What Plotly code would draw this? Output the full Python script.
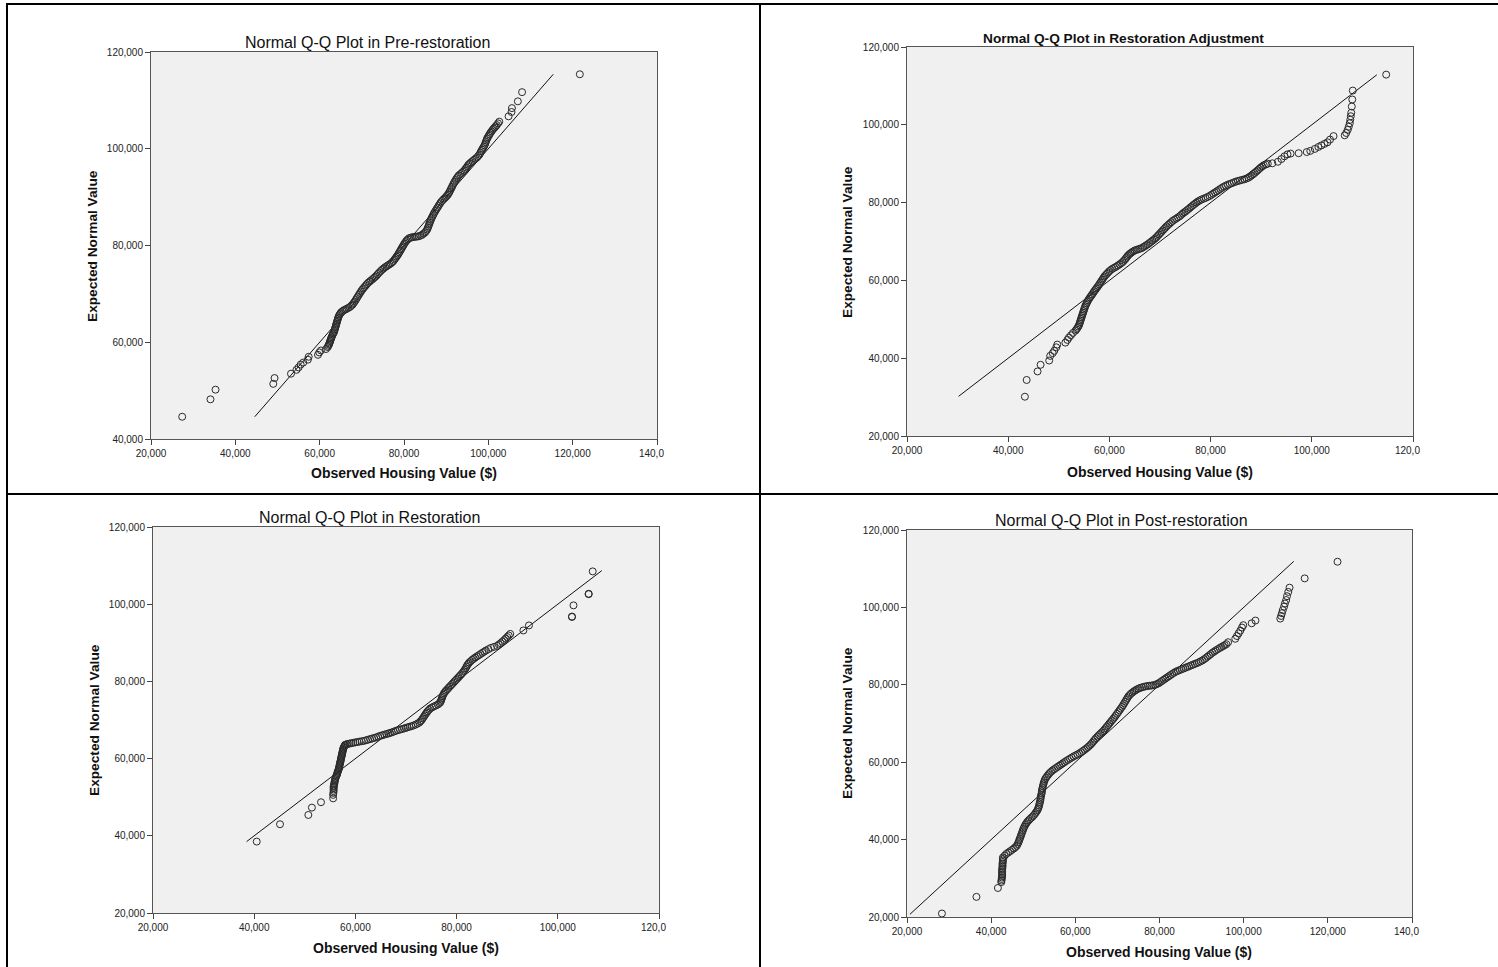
import plotly.graph_objects as go

W, H = 1498, 967

# ---------------- data (observed housing value, expected normal value) ----------------
pre_points = [
    (27400, 44600), (34100, 48200), (35300, 50200), (49000, 51400), (49300, 52600),
    (53200, 53500), (54500, 54300), (55000, 54800), (55500, 55400), (56100, 55800),
    (57200, 56400), (57400, 57000), (59600, 57400), (59900, 57900), (60300, 58300),
    (61500, 58600), (61900, 59000), (62200, 59500), (62400, 60000), (62600, 60500),
    (62800, 61000), (63100, 61600), (63400, 62100), (63600, 62700), (63800, 63300),
    (64000, 63900), (64200, 64500), (64400, 65100), (64700, 65700), (65100, 66200),
    (65700, 66600), (66400, 66900), (67200, 67300), (67800, 67800), (68300, 68400),
    (68800, 69100), (69300, 69800), (69800, 70500), (70300, 71100), (70900, 71700),
    (71500, 72300), (72200, 72800), (72900, 73300), (73500, 73800), (74100, 74400),
    (74800, 75000), (75500, 75500), (76200, 75900), (76900, 76300), (77500, 76800),
    (78000, 77400), (78500, 78000), (78900, 78600), (79300, 79200), (79700, 79800),
    (80100, 80400), (80600, 81000), (81200, 81500), (81900, 81700), (82700, 81800),
    (83500, 81900), (84300, 82200), (85000, 82700), (85500, 83300), (85800, 84000),
    (86100, 84700), (86400, 85400), (86800, 86100), (87200, 86800), (87700, 87500),
    (88200, 88200), (88700, 88900), (89300, 89500), (89900, 90000), (90400, 90500),
    (90800, 91100), (91200, 91800), (91600, 92500), (92000, 93200), (92500, 93900),
    (93000, 94500), (93700, 95000), (94300, 95500), (94800, 96100), (95300, 96700),
    (95900, 97200), (96600, 97700), (97300, 98200), (97900, 98800), (98300, 99500),
    (98700, 100100), (99100, 100700), (99400, 101400), (99700, 102100), (100100, 102700),
    (100500, 103300), (101000, 103900), (101500, 104400), (102000, 104900), (102600, 105600),
    (104800, 106700), (105500, 107600), (105600, 108400), (107000, 109800), (108000, 111700),
    (121700, 115400),
]
pre_points_dense = [
    (62050, 59250), (62300, 59750), (62500, 60250), (62700, 60750), (62950, 61300),
    (63250, 61850), (63500, 62400), (63700, 63000), (63900, 63600), (64100, 64200),
    (64300, 64800), (64550, 65400), (64900, 65950), (65400, 66400), (66050, 66750),
    (66800, 67100), (67500, 67550), (68050, 68100), (68550, 68750), (69050, 69450),
    (69550, 70150), (70050, 70800), (70600, 71400), (71200, 72000), (71850, 72550),
    (72550, 73050), (73200, 73550), (73800, 74100), (74450, 74700), (75150, 75250),
    (75850, 75700), (76550, 76100), (77200, 76550), (77750, 77100), (78250, 77700),
    (78700, 78300), (79100, 78900), (79500, 79500), (79900, 80100), (80350, 80700),
    (80900, 81250), (81550, 81600), (82300, 81750), (83100, 81850), (83900, 82050),
    (84650, 82450), (85250, 83000), (85650, 83650), (85950, 84350), (86250, 85050),
    (86600, 85750), (87000, 86450), (87450, 87150), (87950, 87850), (88450, 88550),
    (89000, 89200), (89600, 89750), (90150, 90250), (90600, 90800), (91000, 91450),
    (91400, 92150), (91800, 92850), (92250, 93550), (92750, 94200), (93350, 94750),
    (94000, 95250), (94550, 95800), (95050, 96400), (95600, 96950), (96250, 97450),
    (96950, 97950), (97600, 98500), (98100, 99150), (98500, 99800), (98900, 100400),
    (99250, 101050), (99550, 101750), (99900, 102400), (100300, 103000), (100750, 103600),
    (101250, 104150), (101750, 104650), (102300, 105250),
]

adj_points = [
    (43300, 30100), (43650, 34400), (45800, 36600), (46400, 38300), (48100, 39400),
    (48300, 40600), (48800, 41300), (49100, 41900), (49500, 42800), (49700, 43500),
    (51300, 44000), (51700, 44700), (52000, 45300), (52400, 45900), (52800, 46500),
    (53300, 47100), (53700, 47800), (54000, 48500), (54200, 49300), (54400, 50100),
    (54600, 50900), (54800, 51700), (55000, 52500), (55200, 53300), (55500, 54100),
    (55800, 54900), (56200, 55700), (56600, 56400), (57000, 57200), (57400, 57900),
    (57800, 58600), (58200, 59400), (58600, 60200), (59000, 61000), (59500, 61700),
    (60000, 62400), (60600, 63000), (61300, 63500), (62000, 64100), (62600, 64700),
    (63100, 65400), (63500, 66100), (63900, 66700), (64400, 67200), (65000, 67700),
    (65700, 68000), (66400, 68300), (67000, 68800), (67600, 69300), (68200, 69900),
    (68800, 70500), (69300, 71100), (69800, 71800), (70300, 72500), (70800, 73200),
    (71300, 73900), (71900, 74600), (72500, 75300), (73200, 75900), (73900, 76500),
    (74500, 77200), (75100, 77800), (75700, 78400), (76300, 79100), (76900, 79700),
    (77500, 80300), (78200, 80800), (79000, 81200), (79800, 81700), (80500, 82300),
    (81200, 82900), (81900, 83500), (82600, 84100), (83400, 84600), (84200, 85000),
    (85000, 85400), (85800, 85700), (86700, 86000), (87500, 86400), (88100, 87000),
    (88700, 87600), (89300, 88300), (89900, 89000), (90500, 89600), (91300, 90000),
    (92200, 90100), (93300, 90500), (94000, 91200), (94600, 91900), (95200, 92400),
    (95800, 92600), (97400, 92700), (99000, 93000), (99700, 93300), (100600, 93800),
    (101300, 94300), (101900, 94700), (102500, 95100), (103100, 95500), (103600, 96200),
    (104300, 97100), (106500, 97300), (106800, 97900), (107100, 98700), (107300, 99500),
    (107500, 100400), (107600, 101300), (107700, 102200), (107800, 103100), (107900, 104700),
    (108000, 106500), (108100, 108800), (114700, 112900),
]
adj_points_dense = [
    (53500, 47450), (53850, 48150), (54100, 48900), (54300, 49700), (54500, 50500),
    (54700, 51300), (54900, 52100), (55100, 52900), (55350, 53700), (55650, 54500),
    (56000, 55300), (56400, 56050), (56800, 56800), (57200, 57550), (57600, 58250),
    (58000, 59000), (58400, 59800), (58800, 60600), (59250, 61350), (59750, 62050),
    (60300, 62700), (60950, 63250), (61650, 63800), (62300, 64400), (62850, 65050),
    (63300, 65750), (63700, 66400), (64150, 66950), (64700, 67450), (65350, 67850),
    (66050, 68150), (66700, 68550), (67300, 69050), (67900, 69600), (68500, 70200),
    (69050, 70800), (69550, 71450), (70050, 72150), (70550, 72850), (71050, 73550),
    (71600, 74250), (72200, 74950), (72850, 75600), (73550, 76200), (74200, 76850),
    (74800, 77500), (75400, 78100), (76000, 78750), (76600, 79400), (77200, 80000),
    (77850, 80550), (78600, 81000), (79400, 81450), (80150, 82000), (80850, 82600),
    (81550, 83200), (82250, 83800), (83000, 84350), (83800, 84800), (84600, 85200),
    (85400, 85550), (86250, 85850), (87100, 86200), (87800, 86700), (88400, 87300),
    (89000, 87950), (89600, 88650), (90200, 89300), (90900, 89800),
]

res_points = [
    (40500, 38500), (45100, 43000), (50700, 45400), (51400, 47300), (53200, 48700),
    (55600, 49700), (55600, 50600), (55700, 51600), (55700, 52400), (55700, 52700),
    (55800, 53300), (55900, 54000), (56000, 54700), (56200, 55400), (56400, 56000),
    (56500, 56600), (56700, 57200), (56800, 57800), (56900, 58400), (57000, 59000),
    (57100, 59600), (57200, 60200), (57300, 60800), (57400, 61400), (57500, 62000),
    (57600, 62600), (57800, 63200), (58000, 63600), (58500, 63800), (59200, 64000),
    (60000, 64200), (60800, 64400), (61700, 64600), (62500, 64900), (63300, 65200),
    (64100, 65500), (64900, 65900), (65700, 66200), (66500, 66500), (67200, 66800),
    (68000, 67200), (68800, 67500), (69600, 67800), (70300, 68100), (71100, 68400),
    (71900, 68800), (72600, 69300), (73100, 70000), (73500, 70800), (73900, 71600),
    (74300, 72300), (74800, 73000), (75500, 73500), (76300, 74000), (76800, 74600),
    (77000, 75300), (77200, 76100), (77500, 76900), (77900, 77600), (78400, 78300),
    (78900, 79000), (79400, 79700), (79900, 80400), (80400, 81100), (80900, 81800),
    (81400, 82600), (81800, 83400), (82100, 84200), (82500, 84900), (83100, 85600),
    (83700, 86200), (84400, 86800), (85100, 87400), (85800, 88000), (86800, 88700),
    (88000, 89200), (88700, 89900), (89400, 90700), (90000, 91500), (90600, 92300),
    (93200, 93200), (94300, 94500), (102800, 96700), (102800, 96800), (103100, 99700),
    (106100, 102600), (106100, 102700), (106900, 108500),
]
res_points_dense = [
    (55650, 51100), (55700, 52000), (55750, 53000), (55850, 53650), (55950, 54350),
    (56100, 55050), (56300, 55700), (56450, 56300), (56600, 56900), (56750, 57500),
    (56850, 58100), (56950, 58700), (57050, 59300), (57150, 59900), (57250, 60500),
    (57350, 61100), (57450, 61700), (57550, 62300), (57700, 62900), (57900, 63400),
    (58250, 63700), (58850, 63900), (59600, 64100), (60400, 64300), (61250, 64500),
    (62100, 64750), (62900, 65050), (63700, 65350), (64500, 65700), (65300, 66050),
    (66100, 66350), (66850, 66650), (67600, 67000), (68400, 67350), (69200, 67650),
    (69950, 67950), (70700, 68250), (71500, 68600), (72250, 69050), (72850, 69650),
    (73300, 70400), (73700, 71200), (74100, 71950), (74550, 72650), (75150, 73250),
    (75900, 73750), (76550, 74300), (76900, 74950), (77100, 75700), (77350, 76500),
    (77700, 77250), (78150, 77950), (78650, 78650), (79150, 79350), (79650, 80050),
    (80150, 80750), (80650, 81450), (81150, 82200), (81600, 83000), (81950, 83800),
    (82300, 84550), (82800, 85250), (83400, 85900), (84050, 86500), (84750, 87100),
    (85450, 87700), (86300, 88350), (87400, 88950), (88350, 89550), (89050, 90300),
    (89700, 91100), (90300, 91900),
]

post_points = [
    (28300, 20900), (36500, 25200), (41600, 27500), (42400, 29000), (42500, 29800),
    (42600, 30600), (42600, 31400), (42600, 32200), (42700, 33000), (42700, 33800),
    (42800, 34600), (42800, 35400), (43600, 36300), (44500, 37000), (45400, 37700),
    (46100, 38400), (46500, 39300), (46800, 40200), (47100, 41100), (47400, 42000),
    (47700, 42900), (48100, 43800), (48600, 44600), (49200, 45300), (49900, 46000),
    (50500, 46800), (51000, 47600), (51300, 48400), (51500, 49300), (51700, 50200),
    (51800, 51100), (52000, 52000), (52100, 52900), (52300, 53800), (52500, 54700),
    (52800, 55600), (53300, 56400), (53900, 57200), (54600, 57900), (55400, 58500),
    (56200, 59100), (57000, 59700), (57800, 60300), (58700, 60900), (59600, 61500),
    (60500, 62000), (61400, 62600), (62200, 63200), (63000, 63900), (63700, 64600),
    (64300, 65400), (64900, 66200), (65600, 67000), (66300, 67700), (66900, 68400),
    (67500, 69200), (68100, 70000), (68700, 70800), (69300, 71600), (69900, 72500),
    (70500, 73400), (71100, 74300), (71600, 75200), (72100, 76100), (72600, 77000),
    (73200, 77700), (73900, 78300), (74600, 78800), (75400, 79200), (76300, 79500),
    (77200, 79700), (78100, 79800), (79000, 80000), (79800, 80400), (80600, 81000),
    (81400, 81600), (82200, 82200), (83000, 82800), (83900, 83400), (84800, 83800),
    (85700, 84200), (86600, 84600), (87500, 85000), (88400, 85400), (89300, 85800),
    (90200, 86300), (91000, 86900), (91800, 87600), (92600, 88300), (93400, 88900),
    (94300, 89500), (95100, 90000), (95900, 90500), (96300, 91000), (98000, 91900),
    (98400, 92600), (98800, 93300), (99200, 94000), (99600, 94800), (99900, 95400),
    (101900, 95900), (102800, 96600), (108700, 97100), (108900, 97800), (109100, 98500),
    (109300, 99300), (109600, 100200), (109800, 101000), (110100, 101900), (110300, 102900),
    (110600, 104000), (110900, 105100), (114500, 107500), (122300, 111800),
]
post_points_dense = [
    (42450, 29400), (42550, 30200), (42600, 31000), (42600, 31800), (42650, 32600),
    (42700, 33400), (42750, 34200), (42800, 35000), (43200, 35850), (44050, 36650),
    (44950, 37350), (45750, 38050), (46300, 38850), (46650, 39750), (46950, 40650),
    (47250, 41550), (47550, 42450), (47900, 43350), (48350, 44200), (48900, 44950),
    (49550, 45650), (50200, 46400), (50750, 47200), (51150, 48000), (51400, 48850),
    (51600, 49750), (51750, 50650), (51900, 51550), (52050, 52450), (52200, 53350),
    (52400, 54250), (52650, 55150), (53050, 56000), (53600, 56800), (54250, 57550),
    (55000, 58200), (55800, 58800), (56600, 59400), (57400, 60000), (58250, 60600),
    (59150, 61200), (60050, 61750), (60950, 62300), (61800, 62900), (62600, 63550),
    (63350, 64250), (64000, 65000), (64600, 65800), (65250, 66600), (65950, 67350),
    (66600, 68050), (67200, 68800), (67800, 69600), (68400, 70400), (69000, 71200),
    (69600, 72050), (70200, 72950), (70800, 73850), (71350, 74750), (71850, 75650),
    (72350, 76550), (72900, 77350), (73550, 78000), (74250, 78550), (75000, 79000),
    (75850, 79350), (76750, 79600), (77650, 79750), (78550, 79900), (79400, 80200),
    (80200, 80700), (81000, 81300), (81800, 81900), (82600, 82500), (83450, 83100),
    (84350, 83600), (85250, 84000), (86150, 84400), (87050, 84800), (87950, 85200),
    (88850, 85600), (89750, 86050), (90600, 86600), (91400, 87250), (92200, 87950),
    (93000, 88600), (93850, 89200), (94700, 89750), (95500, 90250),
]

# reference (expected = observed) line extents
pre_line = [44600, 115400]
adj_line = [30200, 112850]
res_line = [38500, 108700]
post_line = [20700, 111900]

titles = [
    "Normal Q-Q Plot in Pre-restoration",
    "Normal Q-Q Plot in Restoration Adjustment",
    "Normal Q-Q Plot in Restoration",
    "Normal Q-Q Plot in Post-restoration",
]
x_title = "Observed Housing Value ($)"
y_title = "Expected Normal Value"

x_ticks_140 = [20000, 40000, 60000, 80000, 100000, 120000, 140000]
x_text_140 = ["20,000", "40,000", "60,000", "80,000", "100,000", "120,000", "140,0"]
x_ticks_120 = [20000, 40000, 60000, 80000, 100000, 120000]
x_text_120 = ["20,000", "40,000", "60,000", "80,000", "100,000", "120,0"]
y_ticks_40 = [40000, 60000, 80000, 100000, 120000]
y_text_40 = ["40,000", "60,000", "80,000", "100,000", "120,000"]
y_ticks_20 = [20000, 40000, 60000, 80000, 100000, 120000]
y_text_20 = ["20,000", "40,000", "60,000", "80,000", "100,000", "120,000"]

# ---------------- layout geometry (pixels) ----------------
def fx(px):
    return px / W


def fy(py):
    return 1 - py / H


NB = "\u00a0"
panels = [
    dict(points=pre_points + pre_points_dense, line=pre_line, box=(151, 657, 52, 439),
         xr=[20000, 140000], yr=[40000, 120000],
         xt=(x_ticks_140, x_text_140), yt=(y_ticks_40, y_text_40),
         title=(367, 43, 16, False), xlab=(404, 473), ylab=(92, 246)),
    dict(points=adj_points + adj_points_dense, line=adj_line, box=(907, 1413, 47, 436),
         xr=[20000, 120000], yr=[20000, 120000],
         xt=(x_ticks_120, x_text_120), yt=(y_ticks_20, y_text_20),
         title=(1123, 38, 13.7, True), xlab=(1160, 472), ylab=(847, 242)),
    dict(points=res_points + res_points_dense, line=res_line, box=(153, 659, 527, 913),
         xr=[20000, 120000], yr=[20000, 120000],
         xt=(x_ticks_120, x_text_120), yt=(y_ticks_20, y_text_20),
         title=(369, 517, 16, False), xlab=(406, 948), ylab=(94, 720)),
    dict(points=post_points + post_points_dense, line=post_line, box=(907, 1412, 530, 917),
         xr=[20000, 140000], yr=[20000, 120000],
         xt=(x_ticks_140, x_text_140), yt=(y_ticks_20, y_text_20),
         title=(1121, 520, 16, False), xlab=(1159, 952), ylab=(847, 723)),
]

FONT = "Liberation Sans, Arial, sans-serif"
fig = go.Figure()
annotations = []
layout = dict(
    width=W, height=H, margin=dict(l=0, r=0, t=0, b=0, pad=0, autoexpand=False),
    paper_bgcolor="white", plot_bgcolor="#F0F0F0", showlegend=False,
    font=dict(family=FONT, color="#222"), template="none",
)

for i, p in enumerate(panels, start=1):
    xa = "x" if i == 1 else f"x{i}"
    ya = "y" if i == 1 else f"y{i}"
    obs = [pt[0] for pt in p["points"]]
    exp = [pt[1] for pt in p["points"]]
    fig.add_trace(go.Scatter(
        x=p["line"], y=p["line"], mode="lines",
        line=dict(color="#111", width=1), xaxis=xa, yaxis=ya, hoverinfo="skip"))
    fig.add_trace(go.Scatter(
        x=obs, y=exp, mode="markers", xaxis=xa, yaxis=ya,
        marker=dict(symbol="circle-open", size=7, color="#2a2a2a",
                    line=dict(width=1, color="#2a2a2a"))))
    x0, x1, y0, y1 = p["box"]
    xtext = [t if not t.endswith(",0") else t + NB * 4 for t in p["xt"][1]]
    axis_common = dict(showgrid=False, zeroline=False, showline=True, linecolor="#555",
                       linewidth=1, mirror=True, ticks="outside", ticklen=5,
                       tickcolor="#444", tickfont=dict(size=10, family=FONT, color="#222"),
                       fixedrange=True, automargin=False)
    layout["xaxis" if i == 1 else f"xaxis{i}"] = dict(
        domain=[fx(x0), fx(x1)], range=p["xr"], anchor=ya,
        tickvals=p["xt"][0], ticktext=xtext, **axis_common)
    layout["yaxis" if i == 1 else f"yaxis{i}"] = dict(
        domain=[fy(y1), fy(y0)], range=p["yr"], anchor=xa,
        tickvals=p["yt"][0], ticktext=p["yt"][1], **axis_common)

    tx, ty, ts, tb = p["title"]
    ttext = f"<b>{titles[i-1]}</b>" if tb else titles[i-1]
    annotations.append(dict(text=ttext, x=fx(tx), y=fy(ty), xref="paper", yref="paper",
                            showarrow=False, xanchor="center", yanchor="middle",
                            font=dict(size=ts, family=FONT, color="#111")))
    annotations.append(dict(text=f"<b>{x_title}</b>", x=fx(p["xlab"][0]), y=fy(p["xlab"][1]),
                            xref="paper", yref="paper", showarrow=False,
                            xanchor="center", yanchor="middle",
                            font=dict(size=14, family=FONT, color="#111")))
    annotations.append(dict(text=f"<b>{y_title}</b>", x=fx(p["ylab"][0]), y=fy(p["ylab"][1]),
                            xref="paper", yref="paper", showarrow=False, textangle=-90,
                            xanchor="center", yanchor="middle",
                            font=dict(size=13.7, family=FONT, color="#111")))

layout["annotations"] = annotations

# table borders
border = dict(type="line", xref="paper", yref="paper", line=dict(color="black", width=2))
layout["shapes"] = [
    dict(border, x0=fx(6), x1=1, y0=fy(4), y1=fy(4)),
    dict(border, x0=fx(7), x1=fx(7), y0=fy(4), y1=0),
    dict(border, x0=fx(760), x1=fx(760), y0=fy(4), y1=0),
    dict(border, x0=fx(6), x1=1, y0=fy(494), y1=fy(494)),
]

fig.update_layout(**layout)
fig.write_html(
    "out.html",
    config={"displayModeBar": False},
    post_script="document.body.style.margin='0';document.body.style.padding='0';"
                "document.body.style.overflow='hidden';",
)
